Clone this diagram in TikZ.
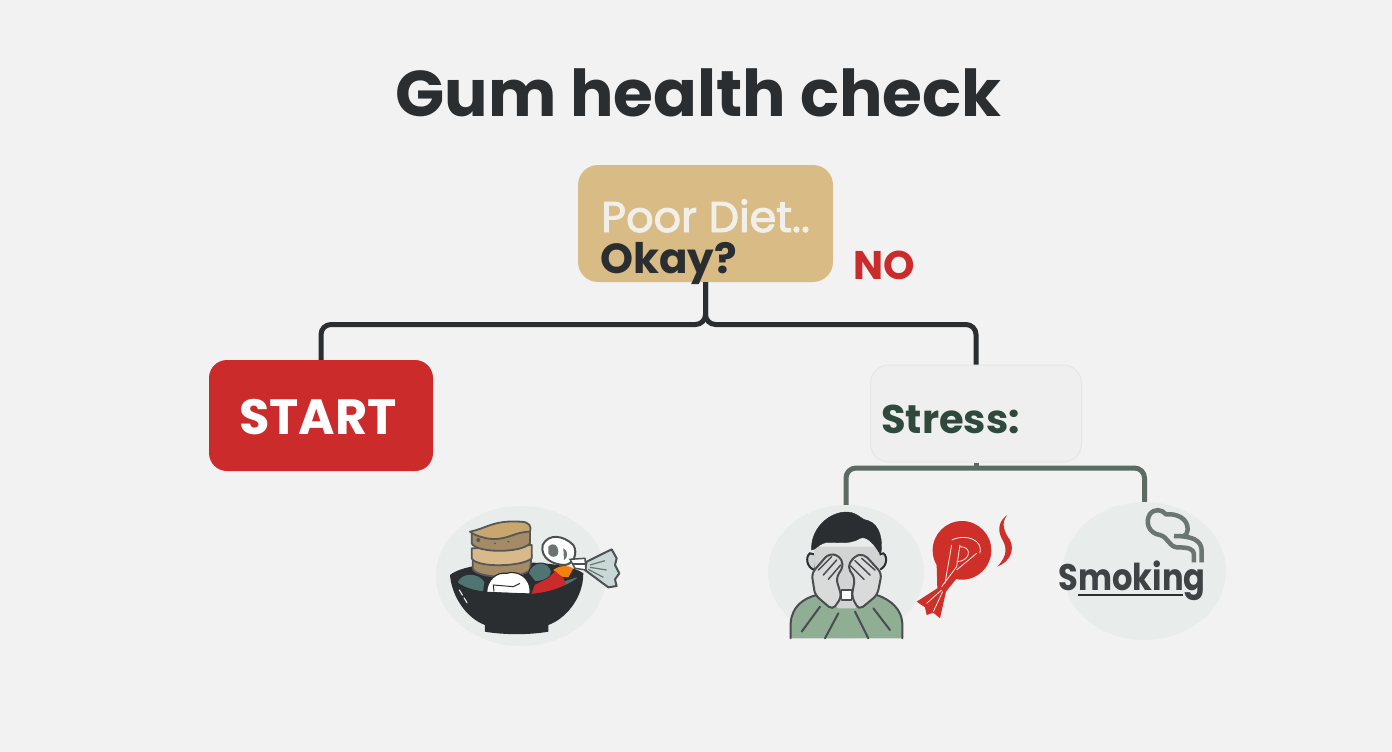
\documentclass[tikz,border=0pt]{standalone}
\usepackage{fontspec}
\setmainfont{Poppins}
\newfontfamily\semifont[FakeBold=2.2]{Poppins}
\usetikzlibrary{shapes.geometric}
\definecolor{bgc}{HTML}{F2F2F2}
\definecolor{inkc}{HTML}{2A2E30}
\definecolor{tanc}{HTML}{D9BC85}
\definecolor{redc}{HTML}{CC2B2B}
\definecolor{creamc}{HTML}{F1EFE9}
\definecolor{stressc}{HTML}{EFEFEF}
\definecolor{stressb}{HTML}{E5E6E5}
\definecolor{greenc}{HTML}{2F4A3C}
\definecolor{linkg}{HTML}{5C6B62}
\definecolor{blobc}{HTML}{E8ECEA}
\definecolor{bodyg}{HTML}{8FAE93}
\definecolor{skinc}{HTML}{D2D4D3}
\definecolor{smokec}{HTML}{6B7572}
\definecolor{cakea}{HTML}{C9A66E}
\definecolor{cakeb}{HTML}{D9B98A}
\definecolor{cakec}{HTML}{A58A66}
\definecolor{tealc}{HTML}{4F7472}
\definecolor{candyc}{HTML}{C9D8D6}
\tikzset{
  box/.style={inner sep=0pt,minimum width=#1},
  blob/.style={ellipse,fill=blobc,inner sep=0pt},
  bigtext/.style={anchor=base west,inner sep=0pt},
  link/.style={line width=5pt,rounded corners=10pt},
  zoomed/.style={x=0.3333pt,y=-0.3333pt},
  lineA/.style={draw=inkc!85,line width=2pt,line join=round,line cap=round},
  lineB/.style={draw=inkc!80,line width=1.8pt,line join=round},
}
\begin{document}
\begin{tikzpicture}[x=1pt,y=-1pt]
\fill[bgc] (0,0) rectangle (1392,752);
\useasboundingbox (0,0) rectangle (1392,752);

\node[font=\fontsize{64.6}{64.6}\selectfont\bfseries,text=inkc,anchor=base,inner sep=0pt] (title) at (698.5,116) {Gum health check};

% nodes
\node[box=255pt,rounded corners=20pt,fill=tanc,minimum height=117pt] (diet) at (705.5,223.5) {};
\node[box=224pt,rounded corners=18pt,fill=redc,minimum height=111pt] (start) at (321,415.5) {};
\node[box=211pt,rounded corners=18pt,fill=stressc,draw=stressb,line width=1pt,minimum height=97pt] (stress) at (976,413.5) {};
\node[blob,minimum width=170pt,minimum height=140pt] (food) at (521,576) {};
\node[blob,minimum width=156pt,minimum height=134pt] (stressicon) at (846,572) {};
\node[blob,minimum width=163pt,minimum height=138pt] (smoke) at (1144.5,571) {};

% texts
\node[bigtext,text=creamc,font=\fontsize{43}{43}\semifont] (poor) at (601,232) {Poor Diet..};
\node[bigtext,text=inkc,font=\fontsize{42}{42}\selectfont\bfseries] (okay) at (600,273) {Okay?};
\node[bigtext,text=redc,font=\fontsize{40}{40}\selectfont\bfseries] (no) at (853,279) {NO};
\node[bigtext,text=white,font=\fontsize{49.5}{49.5}\selectfont\bfseries] (starttext) at (239,434) {START};
\node[bigtext,text=greenc,font=\fontsize{40}{40}\selectfont\bfseries] (stresstext) at (881,433) {Stress:};

% connectors
\coordinate (topj) at (diet.south |- 0,324.5);
\coordinate (lowj) at (stress.south |- 0,468);
\draw[link,draw=inkc] (diet.south) -- (topj) -| (start.north);
\draw[link,draw=inkc] (diet.south) -- (topj) -| (stress.north);
\draw[line width=5pt,draw=linkg] (stress.south) -- (lowj);
\draw[link,draw=linkg] (stressicon.north) |- (lowj) -| (smoke.north);

% food icon
\begin{scope}[shift={(420,490)},zoomed]
  % candy
  \filldraw[fill=candyc,draw=smokec!70!black,line width=2pt,line join=round]
    (500,215) -- (575,178) -- (590,205) -- (585,225) -- (598,250) -- (585,268) -- (590,288) -- (565,292) -- (495,240) -- cycle;
  \draw[smokec,line width=1.2pt] (510,225) -- (555,212) (510,232) -- (560,240) (505,238) -- (550,262);
  \filldraw[fill=white,draw=smokec!70!black,line width=2pt]
    (368,165) .. controls (385,130) and (430,135) .. (460,165)
    .. controls (475,190) and (460,222) .. (435,225)
    .. controls (400,225) and (360,205) .. (368,165) -- cycle;
  \fill[smokec] (385,170) .. controls (400,155) and (415,165) .. (415,185) .. controls (415,205) and (390,205) .. (385,190) -- cycle;
  \fill[smokec] (430,175) .. controls (445,180) and (445,205) .. (432,210) -- cycle;
  \filldraw[fill=white,draw=smokec!70!black,line width=1.5pt] (450,208) -- (495,205) -- (498,240) -- (465,235) -- cycle;
  \draw[smokec!70!black,line width=1.5pt] (458,222) -- (497,222);
  % bowl back
  \fill[inkc] (90,255) .. controls (150,205) and (430,205) .. (490,250) -- (470,320) -- (110,320) -- cycle;
  % stack
  \filldraw[fill=cakec,lineB] (158,205) -- (158,235) .. controls (165,265) and (300,270) .. (330,240) -- (335,195) -- cycle;
  \filldraw[fill=cakeb,lineB] (155,175) -- (155,205) .. controls (170,235) and (310,230) .. (335,205) -- (335,165) -- cycle;
  \filldraw[fill=cakec,lineB] (155,128) -- (155,160) .. controls (170,190) and (305,190) .. (330,160) -- (330,115) -- cycle;
  \filldraw[fill=cakea,lineB] (150,125) .. controls (200,115) and (220,90) .. (300,95) .. controls (330,95) and (335,110) .. (330,125) .. controls (280,125) and (260,155) .. (200,145) .. controls (180,140) and (160,135) .. (150,125) -- cycle;
  \fill[inkc!80] (175,150) circle[radius=6] (225,160) circle[radius=3] (265,155) circle[radius=3];
  % food
  \filldraw[fill=tealc,draw=inkc,line width=1pt] (112,275) .. controls (125,245) and (175,245) .. (195,275) -- (190,310) -- (120,310) -- cycle;
  \filldraw[fill=tealc,draw=inkc,line width=1pt] (325,250) .. controls (330,215) and (385,205) .. (395,245) .. controls (395,265) and (365,275) .. (345,275) -- cycle;
  \fill[orange!80!brown] (400,240) .. controls (420,225) and (445,225) .. (460,235) -- (445,262) -- (425,260) -- cycle;
  \fill[tealc] (430,275) -- (470,262) -- (475,285) -- (440,300) -- cycle;
  \filldraw[fill=redc,draw=redc] (335,312) -- (345,285) -- (385,265) -- (405,245) -- (430,265) -- (440,292) -- (400,305) -- cycle;
  \filldraw[fill=white,draw=inkc,line width=1.2pt] (200,308) .. controls (200,270) and (230,245) .. (260,250)
    .. controls (290,240) and (335,260) .. (330,312) -- cycle;
  \draw[inkc,line width=1pt] (222,305) -- (220,285) -- (280,290) -- (300,280);
  % bowl front
  \fill[inkc] (90,255) .. controls (110,285) and (150,300) .. (195,305) -- (335,312) .. controls (400,305) and (450,285) .. (490,250)
     .. controls (490,330) and (430,390) .. (385,405) -- (385,425) .. controls (330,435) and (250,435) .. (195,425) -- (195,405)
     .. controls (140,385) and (95,320) .. (90,255) -- cycle;
  \draw[white,line width=1pt,line cap=round,dash pattern=on 6pt off 3pt] (118,300) -- (145,345);
\end{scope}

% stressed person
\begin{scope}[shift={(760,490)},zoomed]
  \filldraw[fill=bodyg,draw=none] (92,445) -- (92,400) .. controls (95,350) and (130,325) .. (170,315) -- (350,315) .. controls (395,330) and (425,360) .. (427,400) -- (427,445) -- cycle;
  \draw[lineA] (92,445) -- (92,400) .. controls (95,350) and (130,325) .. (170,315) -- (350,315) .. controls (395,330) and (425,360) .. (427,400) -- (427,445);
  \draw[lineA] (125,425) -- (180,350) (390,420) -- (340,355) (195,445) -- (235,370) (325,445) -- (285,365);
  % ears
  \filldraw[fill=skinc,draw=inkc,line width=2pt] (150,190) .. controls (135,200) and (140,235) .. (165,240) -- (170,195) -- cycle;
  \filldraw[fill=skinc,draw=inkc,line width=2pt] (370,190) .. controls (385,200) and (380,235) .. (355,240) -- (350,195) -- cycle;
  % head
  \fill[skinc] (162,170) -- (358,170) -- (362,290) -- (285,355) -- (235,355) -- (165,290) -- cycle;
  % hair
  \filldraw[fill=inkc,draw=inkc] (155,180) .. controls (150,110) and (220,55) .. (275,68) .. controls (300,75) and (305,90) .. (325,92) .. controls (360,105) and (370,150) .. (362,195) .. controls (345,165) and (320,135) .. (300,145) .. controls (260,170) and (210,150) .. (190,160) .. controls (175,165) and (165,180) .. (155,180) -- cycle;
  % hands
  \filldraw[fill=skinc!85!white,lineA,rounded corners=5pt]
    (155,250) -- (205,192) -- (235,195) -- (252,225) -- (228,265) -- (245,320) -- (218,360) -- (165,315) -- cycle;
  \filldraw[fill=skinc!85!white,lineA,rounded corners=5pt]
    (365,250) -- (312,192) -- (285,197) -- (262,230) -- (285,265) -- (275,320) -- (297,360) -- (352,315) -- cycle;
  \draw[lineA,line width=1.5pt] (175,240) -- (215,200) (190,255) -- (230,210) (205,268) -- (242,225) (345,240) -- (305,205) (330,255) -- (285,212) (312,268) -- (272,228);
  \filldraw[fill=white!90!skinc,lineA,line width=1.5pt] (245,300) rectangle (275,330);
  % red knot
  \fill[redc!95!orange] (606,181) circle[radius=88];
  \fill[redc!95!orange] (530,225) -- (590,265) -- (558,305) -- (540,385) -- (520,368) -- (500,375) -- (495,352) -- (470,335) -- (532,295) -- cycle;
  \draw[creamc,line width=0.8pt] (575,165) -- (555,280) (600,165) -- (590,230) -- (545,290) (600,170) .. controls (640,170) and (630,215) .. (590,215) (575,150) .. controls (620,130) and (670,150) .. (660,190) (650,190) -- (590,240) (500,340) -- (545,300) (520,365) -- (548,305);
  \fill[redc!95!orange] (742,75) .. controls (720,100) and (735,130) .. (750,150) .. controls (765,180) and (750,215) .. (712,230) .. controls (745,195) and (740,170) .. (725,145) .. controls (710,115) and (720,90) .. (742,75) -- cycle;
\end{scope}

% smoke icon
\begin{scope}[shift={(1040,450)},zoomed]
  \draw[smokec,line width=4.5pt,line join=round]
    (485,337) -- (485,300) .. controls (483,272) and (460,258) .. (402,258);
  \draw[smokec,line width=4.5pt,line join=round]
    (462,337) -- (462,312) .. controls (460,298) and (450,292) .. (410,292)
    .. controls (385,288) and (385,262) .. (360,255)
    .. controls (325,250) and (315,215) .. (330,192)
    .. controls (345,175) and (365,178) .. (378,193)
    .. controls (410,190) and (445,205) .. (443,240)
    .. controls (442,250) and (438,255) .. (432,258);
  \node[anchor=base west,inner sep=0pt,text=inkc!90,font=\fontsize{37}{37}\selectfont\bfseries] (smoketext) at (55,423) {\scalebox{0.868}[1]{Smoking}};
  \draw[inkc,line width=1.7pt] (115,434) -- (430,434);
\end{scope}
\end{tikzpicture}
\end{document}
